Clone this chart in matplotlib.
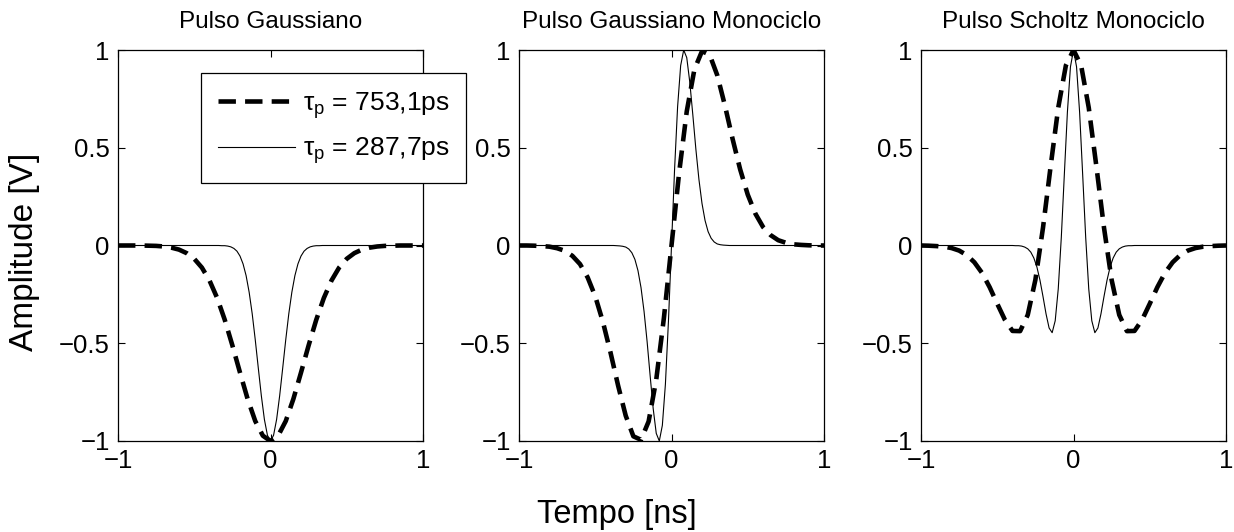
import matplotlib
matplotlib.use("Agg")
import matplotlib.pyplot as plt

plt.rcParams['font.family'] = ['Liberation Sans', 'DejaVu Sans']
plt.rcParams['mathtext.fontset'] = 'custom'
plt.rcParams['mathtext.rm'] = 'Liberation Sans'
plt.rcParams['mathtext.it'] = 'Liberation Sans:italic'

# ---------------- data ----------------
titles = ['Pulso Gaussiano', 'Pulso Gaussiano Monociclo', 'Pulso Scholtz Monociclo']
legend_labels = ['τ$_\\mathrm{p}$ = 753,1ps', 'τ$_\\mathrm{p}$ = 287,7ps']

t_wide = [-1.00, -0.95, -0.90, -0.85, -0.80, -0.75, -0.70, -0.65, -0.60, -0.55,
          -0.50, -0.45, -0.40, -0.35, -0.30, -0.25, -0.20, -0.15, -0.10, -0.05,
          0.00, 0.05, 0.10, 0.15, 0.20, 0.25, 0.30, 0.35, 0.40, 0.45,
          0.50, 0.55, 0.60, 0.65, 0.70, 0.75, 0.80, 0.85, 0.90, 0.95, 1.00]

gauss_wide = [0.000, 0.000, 0.000, 0.000, -0.001, -0.002, -0.005, -0.011, -0.021, -0.039,
              -0.068, -0.113, -0.179, -0.268, -0.380, -0.511, -0.650, -0.785, -0.898, -0.973,
              -1.000, -0.973, -0.898, -0.785, -0.650, -0.511, -0.380, -0.268, -0.179, -0.113,
              -0.068, -0.039, -0.021, -0.011, -0.005, -0.002, -0.001, 0.000, 0.000, 0.000, 0.000]

mono_wide = [0.000, 0.000, -0.001, -0.003, -0.006, -0.014, -0.027, -0.053, -0.095, -0.163,
             -0.260, -0.390, -0.547, -0.717, -0.871, -0.976, -0.994, -0.900, -0.686, -0.372,
             0.000, 0.372, 0.686, 0.900, 0.994, 0.976, 0.871, 0.717, 0.547, 0.390,
             0.260, 0.163, 0.095, 0.053, 0.027, 0.014, 0.006, 0.003, 0.001, 0.000, 0.000]

scholtz_wide = [0.000, -0.001, -0.003, -0.006, -0.013, -0.026, -0.049, -0.086, -0.140, -0.213,
                -0.298, -0.380, -0.437, -0.438, -0.355, -0.176, 0.091, 0.405, 0.705, 0.921,
                1.000, 0.921, 0.705, 0.405, 0.091, -0.176, -0.355, -0.438, -0.437, -0.380,
                -0.298, -0.213, -0.140, -0.086, -0.049, -0.026, -0.013, -0.006, -0.003, -0.001, 0.000]

t_narrow = [-1.00, -0.40, -0.38, -0.36, -0.34, -0.32, -0.30, -0.28, -0.26, -0.24, -0.22,
            -0.20, -0.18, -0.16, -0.14, -0.12, -0.10, -0.08, -0.06, -0.04, -0.02,
            0.00, 0.02, 0.04, 0.06, 0.08, 0.10, 0.12, 0.14, 0.16, 0.18, 0.20,
            0.22, 0.24, 0.26, 0.28, 0.30, 0.32, 0.34, 0.36, 0.38, 0.40, 1.00]

gauss_narrow = [0.000, 0.000, 0.000, 0.000, 0.000, -0.001, -0.001, -0.003, -0.007, -0.015, -0.029,
                -0.054, -0.094, -0.154, -0.239, -0.349, -0.482, -0.627, -0.769, -0.890, -0.971,
                -1.000, -0.971, -0.890, -0.769, -0.627, -0.482, -0.349, -0.239, -0.154, -0.094, -0.054,
                -0.029, -0.015, -0.007, -0.003, -0.001, -0.001, 0.000, 0.000, 0.000, 0.000, 0.000]

mono_narrow = [0.000, 0.000, 0.000, -0.001, -0.002, -0.004, -0.008, -0.018, -0.037, -0.071, -0.128,
               -0.215, -0.337, -0.491, -0.667, -0.835, -0.961, -1.000, -0.920, -0.710, -0.387,
               0.000, 0.387, 0.710, 0.920, 1.000, 0.961, 0.835, 0.667, 0.491, 0.337, 0.215,
               0.128, 0.071, 0.037, 0.018, 0.008, 0.004, 0.002, 0.001, 0.000, 0.000, 0.000]

scholtz_narrow = [0.000, 0.000, -0.001, -0.001, -0.003, -0.008, -0.017, -0.034, -0.064, -0.110, -0.177,
                  -0.261, -0.350, -0.422, -0.446, -0.385, -0.222, 0.041, 0.365, 0.682, 0.914,
                  1.000, 0.914, 0.682, 0.365, 0.041, -0.222, -0.385, -0.446, -0.422, -0.350, -0.261,
                  -0.177, -0.110, -0.064, -0.034, -0.017, -0.008, -0.003, -0.001, -0.001, 0.000, 0.000]

wide_series = [gauss_wide, mono_wide, scholtz_wide]
narrow_series = [gauss_narrow, mono_narrow, scholtz_narrow]

xticks = [-1, 0, 1]
xticklabels = ['\u22121', '0', '1']
yticks = [-1, -0.5, 0, 0.5, 1]
yticklabels = ['\u22121', '\u22120.5', '0', '0.5', '1']

# ---------------- figure ----------------
W, H = 1234, 532
fig = plt.figure(figsize=(W / 100, H / 100), dpi=100)
lefts_px = [118, 519, 921]
ax_w, ax_top, ax_bot = 305, 50, 441

axes = []
for i, lp in enumerate(lefts_px):
    ax = fig.add_axes([lp / W, (H - ax_bot) / H, ax_w / W, (ax_bot - ax_top) / H])
    l1, = ax.plot(t_wide, wide_series[i], color='black', lw=3.3,
                  linestyle=(0, (3.8, 2.0)), dash_capstyle='butt')
    l2, = ax.plot(t_narrow, narrow_series[i], color='black', lw=0.8)
    ax.set_xlim(-1, 1)
    ax.set_ylim(-1, 1)
    ax.set_xticks(xticks)
    ax.set_xticklabels(xticklabels)
    ax.set_yticks(yticks)
    ax.set_yticklabels(yticklabels)
    ax.tick_params(direction='in', length=5, width=0.8, top=True, right=True,
                   labelsize=18.5, pad=6, colors='black')
    for sp in ax.spines.values():
        sp.set_linewidth(0.9)
    ax.set_title(titles[i], fontsize=17.5, pad=16)
    axes.append(ax)
    if i == 0:
        handles = [l1, l2]

fig.text(25 / W, 1 - 252 / H, 'Amplitude [V]', fontsize=24, rotation=90,
         ha='center', va='center')
fig.text(617 / W, 1 - 515 / H, 'Tempo [ns]', fontsize=23.5, ha='center', va='center')

leg = axes[0].legend(handles, legend_labels, loc='upper left',
                     bbox_to_anchor=((201 - 118) / ax_w, (ax_bot - 73) / (ax_bot - ax_top)),
                     fontsize=19, frameon=True, fancybox=False, edgecolor='black',
                     framealpha=1, handlelength=2.9, handletextpad=0.3,
                     borderpad=0.65, labelspacing=0.55, borderaxespad=0)
leg.get_frame().set_linewidth(0.9)

fig.savefig('out.png', dpi=100)
